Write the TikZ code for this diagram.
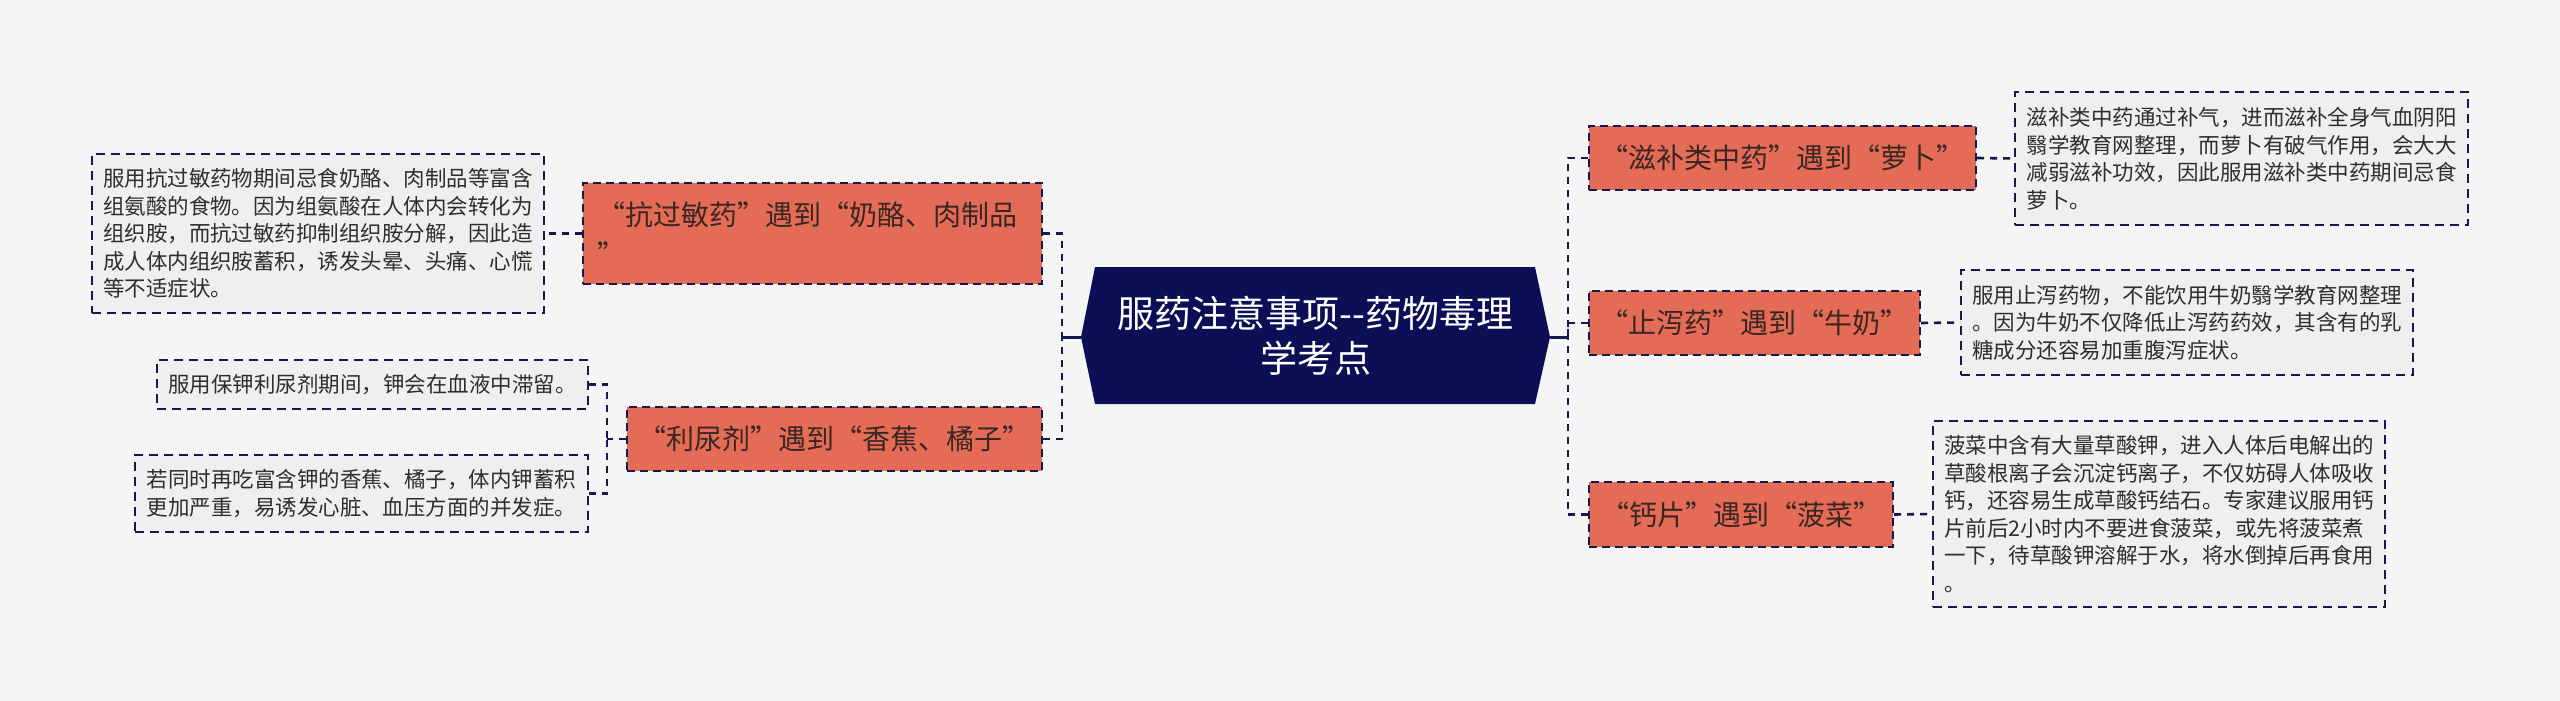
\documentclass[tikz,border=0pt]{standalone}
\usepackage{fontspec}
\newfontfamily\cjk{Noto Sans CJK SC}
\definecolor{bgc}{HTML}{F5F5F5}
\definecolor{branchc}{HTML}{E46C57}
\definecolor{centerc}{HTML}{0C0F55}
\definecolor{leafc}{HTML}{EFEFEF}
\definecolor{linec}{HTML}{15194D}
\definecolor{btext}{HTML}{3A2622}
\definecolor{ltext}{HTML}{2E2E2E}
\tikzset{
  branch/.style={draw=linec, line width=1pt, dash pattern=on 4pt off 2.5pt, fill=branchc,
    font=\cjk\fontsize{14}{20}\selectfont, text=btext, inner sep=0pt, align=left},
  leafbox/.style={draw=linec, line width=0.8pt, dash pattern=on 4.5pt off 3pt, fill=leafc,
    font=\cjk\fontsize{10.75}{13.75}\selectfont, text=ltext, inner sep=0pt, align=left},
  conn/.style={draw=linec, line width=1.3pt, dash pattern=on 3.5pt off 3pt},
  solidconn/.style={draw=linec, line width=1.5pt},
  ctext/.style={font=\cjk\fontsize{18.5}{22.5}\selectfont, text=white, align=center, inner sep=0pt}
}
\begin{document}
\begin{tikzpicture}[x=0.5pt,y=-0.5pt]
\useasboundingbox (0,0) rectangle (2560,701);
\fill[bgc] (0,0) rectangle (2560,701);

% centre
\fill[centerc] (1081,337) -- (1095,267) -- (1535,267) -- (1550,337) -- (1535,404) -- (1095,404) -- cycle;
\node[ctext] (c) at (1315.5,336) {服药注意事项--药物毒理\\学考点};
\coordinate (cL) at (1081,337);
\coordinate (cR) at (1550,337);

% left branches
\node[branch, minimum width=229.5pt, minimum height=50.5pt, text width=215pt] (b1) at (812.5,233.5)
  {“抗过敏药”遇到“奶酪、肉制品\\”};
\node[branch, minimum width=207.5pt, minimum height=32pt] (b2) at (834.5,439)
  {“利尿剂”遇到“香蕉、橘子”};

\node[leafbox, minimum width=226pt, minimum height=79.5pt] (l1) at (318,233.5)
  {服用抗过敏药物期间忌食奶酪、肉制品等富含\\组氨酸的食物。因为组氨酸在人体内会转化为\\组织胺，而抗过敏药抑制组织胺分解，因此造\\成人体内组织胺蓄积，诱发头晕、头痛、心慌\\等不适症状。};
\node[leafbox, minimum width=215.5pt, minimum height=24.5pt] (l2a) at (372.5,384.5)
  {服用保钾利尿剂期间，钾会在血液中滞留。};
\node[leafbox, minimum width=226.5pt, minimum height=38.5pt] (l2b) at (361.5,493.5)
  {若同时再吃富含钾的香蕉、橘子，体内钾蓄积\\更加严重，易诱发心脏、血压方面的并发症。};

% right branches
\node[branch, minimum width=193.5pt, minimum height=32pt] (b3) at (1782.5,158)
  {“滋补类中药”遇到“萝卜”};
\node[branch, minimum width=165.5pt, minimum height=32pt] (b4) at (1754.5,323)
  {“止泻药”遇到“牛奶”};
\node[branch, minimum width=152pt, minimum height=32.5pt] (b5) at (1741,514.5)
  {“钙片”遇到“菠菜”};

\node[leafbox, minimum width=226.5pt, minimum height=66.5pt] (l3) at (2241.5,158.5)
  {滋补类中药通过补气，进而滋补全身气血阴阳\\翳学教育网整理，而萝卜有破气作用，会大大\\减弱滋补功效，因此服用滋补类中药期间忌食\\萝卜。};
\node[leafbox, minimum width=226pt, minimum height=52.5pt] (l4) at (2187,322.5)
  {服用止泻药物，不能饮用牛奶翳学教育网整理\\。因为牛奶不仅降低止泻药药效，其含有的乳\\糖成分还容易加重腹泻症状。};
\node[leafbox, minimum width=226pt, minimum height=93pt] (l5) at (2159,514)
  {菠菜中含有大量草酸钾，进入人体后电解出的\\草酸根离子会沉淀钙离子，不仅妨碍人体吸收\\钙，还容易生成草酸钙结石。专家建议服用钙\\片前后2小时内不要进食菠菜，或先将菠菜煮\\一下，待草酸钾溶解于水，将水倒掉后再食用\\。};

% connectors left
\coordinate (TL) at (1062,337);
\coordinate (TL2) at (607,439);
\draw[solidconn] (cL) -- (TL);
\draw[conn] (b1.east) -| (TL);
\draw[conn] (b2.east) -| (TL);
\draw[conn] (b1.west) -- (l1.east);
\draw[conn] (b2.west) -- (TL2);
\draw[conn] (l2a.east) -| (TL2);
\draw[conn] (l2b.east) -| (TL2);

% connectors right
\coordinate (TR) at (1568,337);
\draw[solidconn] (cR) -- (TR);
\draw[conn] (b3.west) -| (TR);
\draw[conn] (b4.west) -| (TR);
\draw[conn] (b5.west) -| (TR);
\draw[conn] (b3.east) -- (l3.west);
\draw[conn] (b4.east) -- (l4.west);
\draw[conn] (b5.east) -- (l5.west);
\end{tikzpicture}
\end{document}
